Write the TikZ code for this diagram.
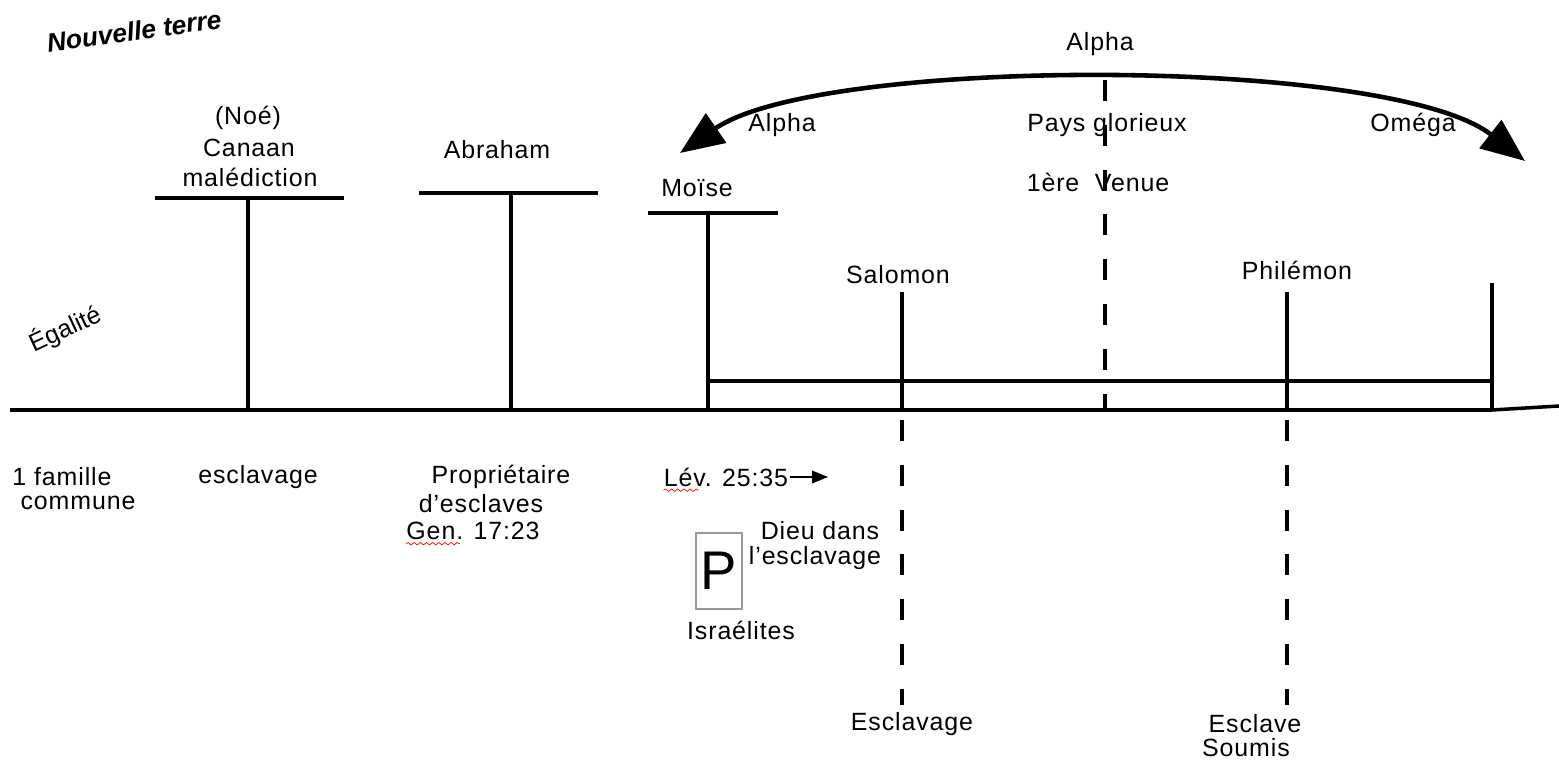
\documentclass[tikz,border=0pt]{standalone}
\usepackage{fontspec}
\setmainfont{Liberation Sans}
\newfontfamily\diagfont[LetterSpace=3.5]{Liberation Sans}
\usetikzlibrary{arrows.meta,positioning,decorations.pathmorphing}

\begin{document}
\begin{tikzpicture}[x=0.02cm, y=-0.02cm,
    lbl/.style={font=\diagfont\fontsize{14.2}{16}\selectfont, inner sep=1pt},
    bar/.style={line width=2pt},
    dashbar/.style={line width=2pt, dash pattern=on 11.9pt off 13.6pt},
    spell/.style={red, line width=0.4pt, decorate,
        decoration={snake, amplitude=0.7pt, segment length=3.5pt}},
    >=Stealth
]
\useasboundingbox (0,0) rectangle (1559,760);

\coordinate (base0) at (10,410);
\coordinate (baseEnd) at (1492,410);
\coordinate (base1) at (1559,406);
\draw[bar] (base0) -- (baseEnd) -- (base1);

\foreach \x/\top/\l/\r in {248/198/155/344, 511/193/419/598, 708/213/648/778} {
  \draw[bar] (\l,\top) -- (\r,\top);
  \draw[bar] (\x,\top) -- (\x,410);
}
\foreach \x/\top in {902/292, 1287/292, 1492/283}
  \draw[bar] (\x,\top) -- (\x,410);
\draw[bar] (708,381) -- (1492,381);

\draw[dashbar, dash phase=0pt] (1105,80) -- (1105,410);
\draw[dashbar, dash phase=-5.7pt] (902,410) -- (902,705);
\draw[dashbar, dash phase=-5.7pt] (1287,410) -- (1287,705);

\coordinate (arcL) at (680,153);
\coordinate (arcR) at (1525,161);
\draw[line width=2.6pt, {Triangle[length=25pt,width=20pt]}-{Triangle[length=25pt,width=20pt]}]
  (arcL) .. controls (820,56) and (1390,56) .. (arcR);

\node[font=\fontsize{15}{17}\selectfont\bfseries\itshape, rotate=8] (terre) at (134,31) {Nouvelle terre};
\node[font=\fontsize{14.2}{16}\selectfont, inner sep=1pt, rotate=25] (egalite) at (65,329) {Égalité};

\node[lbl] (alphaTop) at (1100,44) {Alpha};
\node[lbl] (alphaL) at (782,125) {Alpha};
\node[lbl] (pays) at (1107,125) {Pays glorieux};
\node[lbl] (omega) at (1413,125) {Oméga};
\node[lbl] (venue) at (1098,182) {1ère \ Venue};

\node[lbl] (noe) at (248,118) {(Noé)};
\node[lbl] (canaan) at (249,148) {Canaan};
\node[lbl] (malediction) at (250,177) {malédiction};
\node[lbl] (abraham) at (497,150) {Abraham};
\node[lbl] (moise) at (697,188) {Moïse};
\node[lbl] (salomon) at (898,275) {Salomon};
\node[lbl] (philemon) at (1297,270) {Philémon};

\node[lbl] (famille) at (62,477) {1 famille};
\node[lbl] (commune) at (78,503) {commune};
\node[lbl] (esclavageA) at (258,477) {esclavage};
\node[lbl] (proprio) at (501,477) {Propriétaire};
\node[lbl] (desclaves) at (481,504) {d’esclaves};
\node[lbl] (gen) at (473,531) {Gen. 17:23};
\node[lbl] (lev) at (726,477) {Lév. 25:35};
\coordinate (levTip) at (828,477);
\draw[->, line width=1.2pt, >={Triangle[length=9pt,width=7pt]}] (lev.east) -- (levTip);
\draw[spell] ([xshift=1pt,yshift=-1pt]lev.south west) -- ++(35,0);
\draw[spell] ([xshift=1pt,yshift=-1pt]gen.south west) -- ++(54,0);

\node[lbl] (dieu) at (820,531) {Dieu dans};
\node[lbl] (lesclavage) at (815,558) {l’esclavage};
\node[draw=gray!80, line width=0.8pt, minimum width=0.92cm, minimum height=1.52cm,
      inner sep=0pt, font=\fontsize{31}{31}\selectfont] (pbox) at (719,571) {P};
\node[lbl] (israelites) at (741,630) {Israélites};

\node[lbl] (esclavageB) at (912,724) {Esclavage};
\node[lbl] (esclave) at (1255,724) {Esclave};
\node[lbl] (soumis) at (1246,748) {Soumis};
\end{tikzpicture}
\end{document}
